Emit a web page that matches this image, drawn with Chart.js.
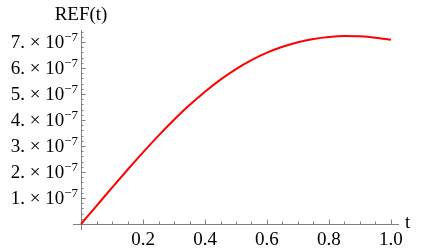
<!DOCTYPE html>
<html>
<head>
<meta charset="utf-8">
<script src="https://cdn.jsdelivr.net/npm/chart.js@4.4.1/dist/chart.umd.min.js"></script>
<style>
  html, body { margin: 0; padding: 0; background: #fff; }
  #wrap { width: 423px; height: 252px; }
</style>
</head>
<body>
<div id="wrap"><canvas id="myChart" width="423" height="252"></canvas></div>
<script>
// t values and REF(t) (units of 1e-7)
let tValues = [0, 0.05, 0.1, 0.15, 0.2, 0.25, 0.3, 0.35, 0.4, 0.45, 0.5,
               0.55, 0.6, 0.65, 0.7, 0.75, 0.8, 0.85, 0.9, 0.95, 1.0];
let refValues = [0, 0.700, 1.398, 2.086, 2.756, 3.401, 4.009, 4.574, 5.089, 5.552, 5.957,
                 6.302, 6.587, 6.815, 6.990, 7.115, 7.193, 7.226, 7.216, 7.166, 7.081];

let xMajorTicks = [0.2, 0.4, 0.6, 0.8, 1.0];
let xTickLabels = ['0.2', '0.4', '0.6', '0.8', '1.0'];
let yMajorTicks = [1, 2, 3, 4, 5, 6, 7];
let yTickLabels = ['1.', '2.', '3.', '4.', '5.', '6.', '7.'];
let yExponent = '\u22127';
let xMinorStep = 0.05;
let yMinorStep = 0.2;

let points = [];
tValues.forEach((t, i) => points.push({x: t, y: refValues[i]}));

const serif = '"Liberation Serif", serif';
const axisColor = '#808080';

// Mathematica-like axes crossing at the origin, ticks pointing inward
let mmaAxes = {
    id: 'mmaAxes',
    beforeDatasetsDraw(chart) {
        let ctx = chart.ctx;
        let xs = chart.scales.x, ys = chart.scales.y;
        let x0 = xs.getPixelForValue(0), y0 = ys.getPixelForValue(0);
        ctx.save();
        ctx.strokeStyle = axisColor;
        ctx.lineWidth = 1;
        ctx.beginPath();
        ctx.moveTo(xs.left, Math.round(y0) + 0.5);
        ctx.lineTo(xs.right, Math.round(y0) + 0.5);
        ctx.moveTo(Math.round(x0) + 0.5, ys.top);
        ctx.lineTo(Math.round(x0) + 0.5, ys.bottom);
        for (let v = xMinorStep; v <= xs.max + 1e-9; v += xMinorStep) {
            let px = Math.round(xs.getPixelForValue(v)) + 0.5;
            let major = xMajorTicks.some(m => Math.abs(m - v) < 1e-6);
            ctx.moveTo(px, y0);
            ctx.lineTo(px, y0 - (major ? 4.5 : 2.5));
        }
        for (let v = yMinorStep; v <= ys.max + 1e-9; v += yMinorStep) {
            let py = Math.round(ys.getPixelForValue(v)) + 0.5;
            let major = yMajorTicks.some(m => Math.abs(m - v) < 1e-6);
            ctx.moveTo(x0, py);
            ctx.lineTo(x0 + (major ? 4.5 : 2.5), py);
        }
        ctx.stroke();

        ctx.fillStyle = '#000';
        ctx.font = '19px ' + serif;
        ctx.textAlign = 'center';
        ctx.textBaseline = 'top';
        xMajorTicks.forEach((v, i) => {
            ctx.fillText(xTickLabels[i], xs.getPixelForValue(v), y0 + 6);
        });
        yMajorTicks.forEach((v, i) => {
            let py = ys.getPixelForValue(v);
            let right = x0 - 3;
            ctx.textBaseline = 'alphabetic';
            ctx.textAlign = 'right';
            ctx.font = '13px ' + serif;
            ctx.fillText(yExponent, right, py - 1);
            let w = ctx.measureText(yExponent).width;
            ctx.font = '19px ' + serif;
            ctx.fillText(yTickLabels[i] + ' \u00d7 10', right - w, py + 6);
        });
        ctx.font = '19px ' + serif;
        ctx.textAlign = 'center';
        ctx.textBaseline = 'middle';
        ctx.fillText('REF(t)', x0, 15);
        ctx.textAlign = 'left';
        ctx.fillText('t', xs.right + 6, y0 - 1);
        ctx.restore();
    }
};

let ctx = document.getElementById('myChart').getContext('2d');
let myChart = new Chart(ctx, {
    type: 'line',
    data: {
        datasets: [{
            data: points,
            borderColor: 'rgb(255, 0, 0)',
            borderWidth: 2,
            pointRadius: 0,
            cubicInterpolationMode: 'monotone',
            fill: false
        }]
    },
    options: {
        responsive: false,
        animation: false,
        layout: { padding: { left: 73, right: 24, top: 30, bottom: 22 } },
        plugins: { legend: { display: false }, tooltip: { enabled: false } },
        scales: {
            x: { type: 'linear', min: -0.026, max: 1.026, display: false },
            y: { type: 'linear', min: -0.23, max: 7.46, display: false }
        }
    },
    plugins: [mmaAxes]
});
</script>
</body>
</html>
